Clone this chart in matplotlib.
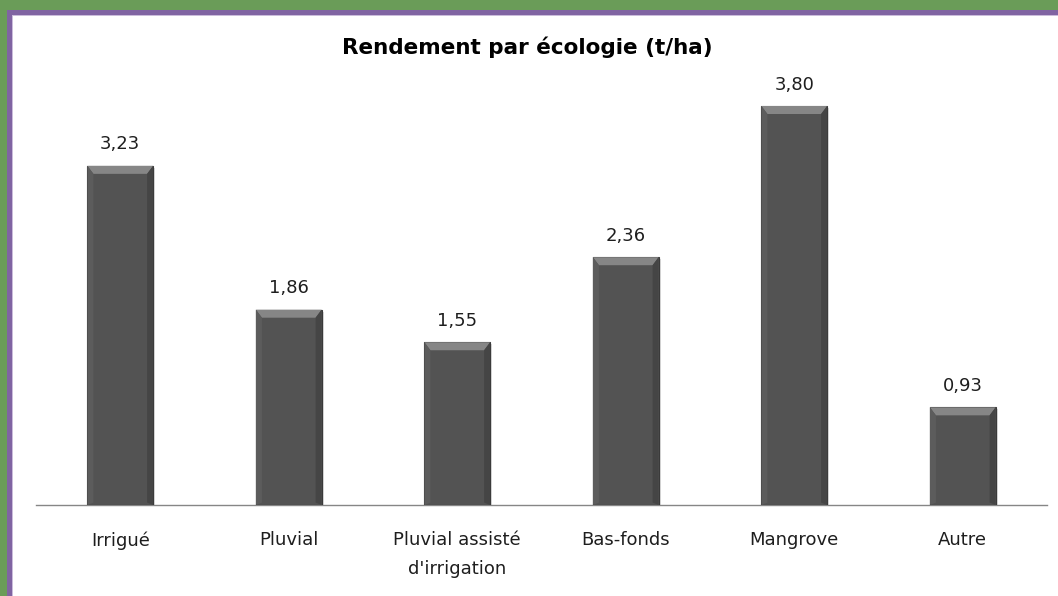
import numpy as np
import matplotlib.pyplot as plt
from matplotlib.patches import Rectangle, Polygon

# Données
categories = ["Irrigué", "Pluvial", "Pluvial assisté\nd'irrigation", "Bas-fonds", "Mangrove", "Autre"]
rendements = [3.23, 1.86, 1.55, 2.36, 3.80, 0.93]
etiquettes = ["3,23", "1,86", "1,55", "2,36", "3,80", "0,93"]

fig = plt.figure(figsize=(10.58, 5.96), dpi=100)
fig.patch.set_facecolor("white")

# Cadre vert / violet
W, H = 1058, 596
fig.patches.append(Rectangle((0, 0), 1, 1, transform=fig.transFigure,
                             facecolor="#6A9C58", edgecolor="none", zorder=-3))
fig.patches.append(Rectangle((7 / W, 0), 1, 1 - 10 / H, transform=fig.transFigure,
                             facecolor="#8064A2", edgecolor="none", zorder=-2))
fig.patches.append(Rectangle((11.5 / W, 0), 1, 1 - 14.5 / H, transform=fig.transFigure,
                             facecolor="#CBBCDB", edgecolor="none", zorder=-1))
fig.patches.append(Rectangle((12.5 / W, 0), 1, 1 - 15.5 / H, transform=fig.transFigure,
                             facecolor="white", edgecolor="none", zorder=-1))

ax = fig.add_axes([36 / W, 1 - 505 / H, (1047 - 36) / W, 420 / H])
ax.set_facecolor("none")

x = np.arange(len(categories))
largeur = 0.39
bars = ax.bar(x, rendements, width=largeur, color="#535353", edgecolor="#3A3A3A",
              linewidth=0.8, zorder=3)

# Effet biseauté en haut et sur les côtés
ax.set_xlim(-0.5, len(categories) - 0.5)
ax.set_ylim(0, 4.0)
px_x = (ax.get_xlim()[1] - ax.get_xlim()[0]) / 1011
px_y = 4.0 / 420
for xi, v in zip(x, rendements):
    g, d = xi - largeur / 2, xi + largeur / 2
    bx, by = 6 * px_x, 8 * px_y
    haut = Polygon([(g, v), (d, v), (d - bx, v - by), (g + bx, v - by)],
                   closed=True, facecolor="#868686", edgecolor="none", zorder=4)
    ax.add_patch(haut)
    cg = Polygon([(g, v), (g + bx, v - by), (g + bx, by * 0.3), (g, 0)],
                 closed=True, facecolor="#5C5C5C", edgecolor="none", zorder=4)
    ax.add_patch(cg)
    cd = Polygon([(d, v), (d - bx, v - by), (d - bx, by * 0.3), (d, 0)],
                 closed=True, facecolor="#454545", edgecolor="none", zorder=4)
    ax.add_patch(cd)
    # ombre légère
    ax.add_patch(Rectangle((d, 0), 2 * px_x, v - 2 * px_y, facecolor="#DADADA",
                           edgecolor="none", zorder=2))

for xi, v, t in zip(x, rendements, etiquettes):
    ax.annotate(t, (xi, v), xytext=(0, 9), textcoords="offset points",
                ha="center", va="bottom", fontsize=13, family="DejaVu Sans", color="#1E1E1E")

ax.set_xticks(x)
ax.set_xticklabels(categories, fontsize=13, family="DejaVu Sans", color="#1E1E1E",
                   linespacing=1.75)
ax.tick_params(axis="x", length=0, pad=19)
ax.set_yticks([])
for s in ["top", "right", "left"]:
    ax.spines[s].set_visible(False)
ax.spines["bottom"].set_color("#868686")
ax.spines["bottom"].set_linewidth(1.0)

fig.text(527 / W, 1 - 47 / H, "Rendement par écologie (t/ha)", ha="center", va="center",
         fontsize=15.5, fontweight="bold", family="DejaVu Sans", color="black")

fig.savefig("out.png", dpi=100, facecolor=fig.get_facecolor())
